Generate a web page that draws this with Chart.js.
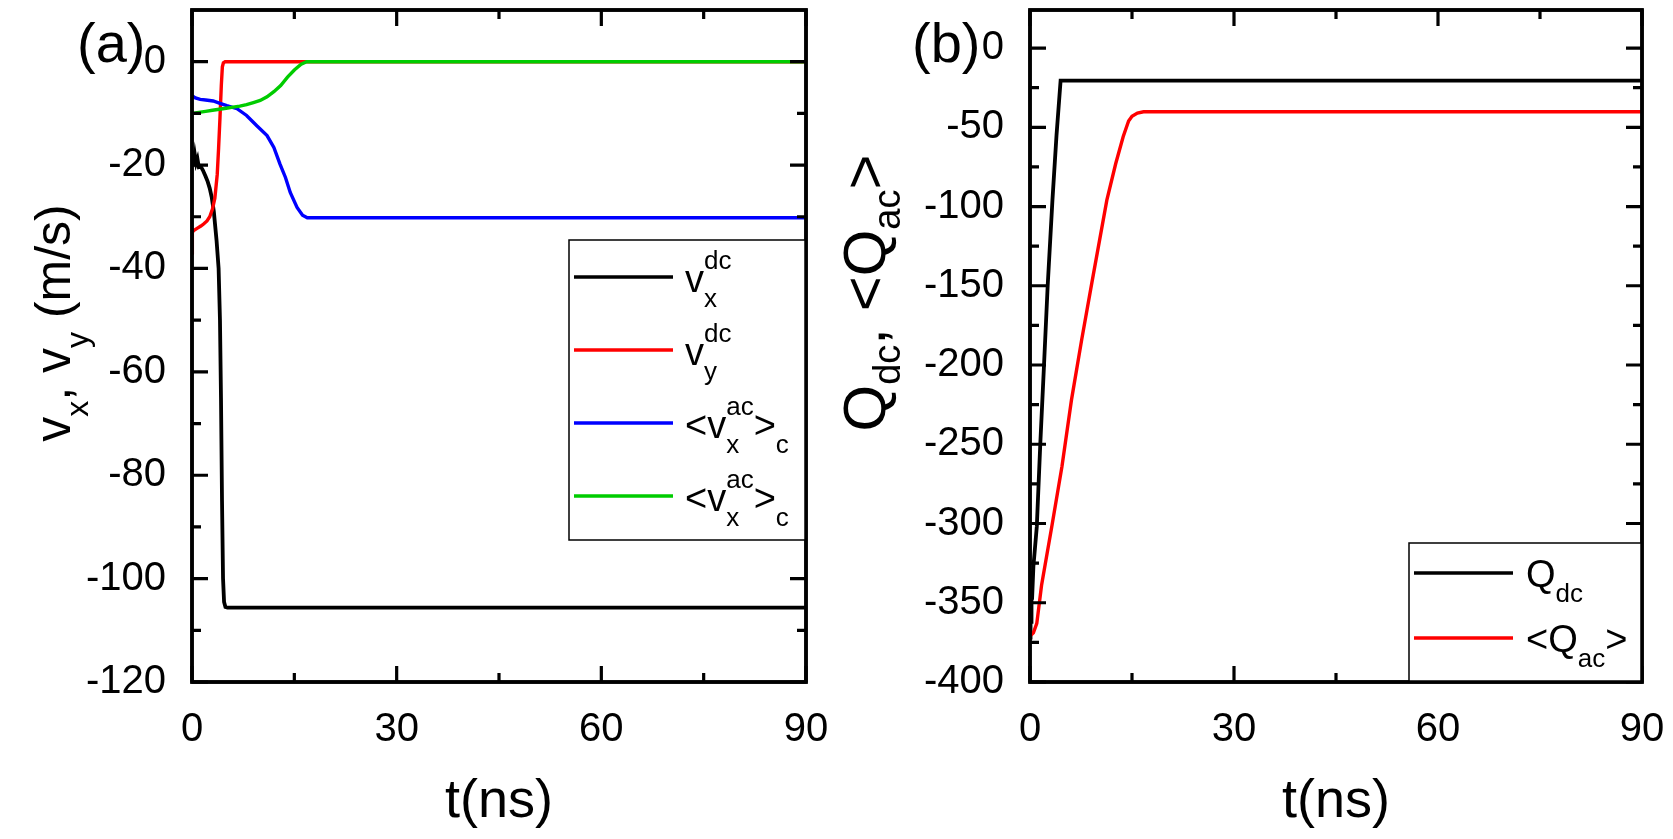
<!DOCTYPE html>
<html>
<head>
<meta charset="utf-8">
<script src="https://cdn.jsdelivr.net/npm/chart.js@4.4.1/dist/chart.umd.min.js"></script>
<style>
  html, body { margin: 0; padding: 0; background: #fff; }
  #wrap { position: relative; width: 1673px; height: 839px; }
  .panel { position: absolute; top: 0; }
</style>
</head>
<body>
<div id="wrap">
  <div class="panel" style="left:0"><canvas id="chartA" width="836" height="839"></canvas></div>
  <div class="panel" style="left:836px"><canvas id="chartB" width="837" height="839"></canvas></div>
</div>
<script>
const FONT = "'Liberation Sans', Arial, sans-serif";

// ---- panel (a): velocities, m/s vs t (ns)
const tVxDc = [0, 0.1, 0.2, 0.3, 0.45, 0.6, 0.8, 1.0, 1.3, 1.6, 2.0, 2.3, 2.6, 2.9, 3.2, 3.6, 3.9, 4.1, 4.25, 4.4, 4.55, 4.7, 4.9, 5.2, 90];
const vxDc  = [-17.5, -19.8, -17.2, -20.2, -18.3, -19.6, -18.8, -20.4, -20.3, -21, -22.2, -23.2, -24.5, -26.3, -29, -34.6, -40, -50, -65, -85, -100, -104.5, -105.5, -105.6, -105.6];

const tVyDc = [0, 0.05, 0.3, 0.8, 1.3, 1.7, 2.2, 2.6, 3.0, 3.35, 3.7, 3.9, 4.1, 4.3, 4.45, 4.6, 4.85, 90];
const vyDc  = [-37, -33, -32.6, -32.2, -31.8, -31.4, -30.8, -30, -28.5, -26.4, -21.8, -16.7, -10.9, -4.5, -1, -0.2, 0, 0];

const tVxAc = [0, 0.5, 1.2, 2, 3.1, 4, 5.1, 6.6, 8, 9.5, 11, 12, 12.9, 13.7, 14.4, 15.4, 16.2, 16.9, 90];
const vxAc  = [-6.6, -7.0, -7.3, -7.4, -7.6, -8.0, -8.5, -9.1, -10.4, -12.4, -14.3, -16.6, -19.8, -22.4, -25.3, -28.2, -29.7, -30.2, -30.2];

const tVyAc = [0, 1, 2, 3, 4, 5, 6, 7, 8, 9, 10, 11, 12, 13, 14, 15, 16, 16.8, 90];
const vyAc  = [-10, -9.8, -9.6, -9.4, -9.2, -9.0, -8.8, -8.6, -8.3, -7.9, -7.5, -6.8, -5.8, -4.6, -3.0, -1.6, -0.5, 0, 0];

// ---- panel (b): Q_dc and <Q_ac>
const tQdc = [0, 0.08, 0.15, 0.22, 0.3, 0.5, 1.0, 1.5, 2.05, 2.6, 3.3, 3.9, 4.5, 90];
const qDc  = [-372, -330, -362, -335, -348, -327, -302, -251, -201, -150, -96, -55, -20.5, -20.5];

const tQac = [0, 0.5, 1.0, 1.7, 3.2, 4.7, 6.1, 7.6, 9.1, 10.2, 11.3, 12.6, 13.7, 14.5, 15.0, 15.8, 16.7, 90];
const qAc  = [-371, -369, -363, -339, -302, -264, -222, -184, -148, -122, -96, -73, -56, -46, -43, -41, -40.2, -40.2];

// ---- ticks
const xTicks  = [0, 30, 60, 90];
const xMinor  = [15, 45, 75];
const yTicksA = [-120, -100, -80, -60, -40, -20, 0];
const yMinorA = [-110, -90, -70, -50, -30, -10];
const yTicksB = [-400, -350, -300, -250, -200, -150, -100, -50, 0];
const yMinorB = [-375, -325, -275, -225, -175, -125, -75, -25];

function pts(xs, ys) {
  return xs.map((x, i) => ({ x: x, y: ys[i] }));
}

// text made of parts: {t} normal, {sup, sub} stacked small text
function richWidth(ctx, parts, big, small) {
  let w = 0;
  parts.forEach((p) => {
    if (p.t) { ctx.font = big; w += ctx.measureText(p.t).width; }
    else {
      ctx.font = small;
      w += Math.max(p.sup ? ctx.measureText(p.sup).width : 0, p.sub ? ctx.measureText(p.sub).width : 0);
    }
  });
  return w;
}
function drawRich(ctx, x, y, parts, big, small, supOff, subOff) {
  parts.forEach((p) => {
    if (p.t) {
      ctx.font = big;
      ctx.fillText(p.t, x, y);
      x += ctx.measureText(p.t).width;
    } else {
      ctx.font = small;
      let w = 0;
      if (p.sup) { ctx.fillText(p.sup, x, y - supOff); w = ctx.measureText(p.sup).width; }
      if (p.sub) { ctx.fillText(p.sub, x, y + subOff); w = Math.max(w, ctx.measureText(p.sub).width); }
      x += w;
    }
  });
}

const frameTicks = {
  id: "frameTicks",
  afterDatasetsDraw(chart, args, o) {
    const { ctx, chartArea: a, scales: { x, y } } = chart;
    ctx.save();
    ctx.strokeStyle = "#000";
    ctx.lineWidth = 3.2;
    ctx.beginPath();
    const tickX = (vals, len) => vals.forEach((v) => {
      const px = x.getPixelForValue(v);
      ctx.moveTo(px, a.bottom); ctx.lineTo(px, a.bottom - len);
      ctx.moveTo(px, a.top); ctx.lineTo(px, a.top + len);
    });
    const tickY = (vals, len) => vals.forEach((v) => {
      const py = y.getPixelForValue(v);
      ctx.moveTo(a.left, py); ctx.lineTo(a.left + len, py);
      ctx.moveTo(a.right, py); ctx.lineTo(a.right - len, py);
    });
    tickX(o.xMajor, 16); tickX(o.xMinor, 9);
    tickY(o.yMajor, 16); tickY(o.yMinor, 9);
    ctx.stroke();
    ctx.lineWidth = 3.5;
    ctx.strokeRect(a.left, a.top, a.right - a.left, a.bottom - a.top);
    ctx.restore();
  }
};

const richLegend = {
  id: "richLegend",
  afterDraw(chart, args, o) {
    const ctx = chart.ctx;
    const b = o.box;
    ctx.save();
    ctx.fillStyle = "#fff";
    ctx.strokeStyle = "#000";
    ctx.lineWidth = 1.5;
    ctx.fillRect(b.x, b.y, b.w, b.h);
    ctx.strokeRect(b.x, b.y, b.w, b.h);
    chart.data.datasets.forEach((ds) => {
      const ly = o.rows[ds.legendRow];
      ctx.strokeStyle = ds.borderColor;
      ctx.lineWidth = 3.4;
      ctx.beginPath();
      ctx.moveTo(o.lineX0, ly);
      ctx.lineTo(o.lineX1, ly);
      ctx.stroke();
      ctx.fillStyle = "#000";
      ctx.textBaseline = "alphabetic";
      drawRich(ctx, o.textX, ly + o.base, ds.rich, "38px " + FONT, "26px " + FONT, 23, 15);
    });
    // axes edges that the box sits on
    const a = chart.chartArea;
    ctx.strokeStyle = "#000";
    ctx.lineWidth = 3.5;
    ctx.strokeRect(a.left, a.top, a.right - a.left, a.bottom - a.top);
    ctx.restore();
  }
};

const titles = {
  id: "titles",
  afterDraw(chart, args, o) {
    const { ctx, chartArea: a } = chart;
    ctx.save();
    ctx.fillStyle = "#000";
    ctx.textBaseline = "alphabetic";
    // x title
    ctx.font = "54px " + FONT;
    ctx.textAlign = "center";
    ctx.fillText("t(ns)", (a.left + a.right) / 2, 817);
    // panel label
    ctx.textAlign = "left";
    ctx.font = "56px " + FONT;
    ctx.fillText(o.panel, o.panelX, 62);
    // rotated y title
    const big = o.yFont + "px " + FONT;
    const small = Math.round(o.yFont * 0.64) + "px " + FONT;
    const w = richWidth(ctx, o.yParts, big, small);
    ctx.translate(o.yBase, o.yMid);
    ctx.rotate(-Math.PI / 2);
    drawRich(ctx, -w / 2, 0, o.yParts, big, small, 0, o.ySub);
    ctx.restore();
  }
};

function lineSet(data, color, rich, row, order, width) {
  return {
    data: data, borderColor: color, backgroundColor: color,
    borderWidth: width || 3.4, pointRadius: 0, tension: 0, fill: false,
    rich: rich, legendRow: row, order: order
  };
}

function axes(yMin, yMax, yMajor, yWidth) {
  const tickFont = { family: FONT, size: 40 };
  return {
    x: {
      type: "linear", min: 0, max: 90,
      grid: { display: false }, border: { display: false },
      ticks: { font: tickFont, color: "#000", padding: 16, maxRotation: 0 },
      afterBuildTicks: (s) => { s.ticks = xTicks.map((v) => ({ value: v })); },
      afterFit: (s) => { s.height = 157; s.paddingLeft = 0; s.paddingRight = 0; }
    },
    y: {
      type: "linear", min: yMin, max: yMax,
      grid: { display: false }, border: { display: false },
      ticks: { font: tickFont, color: "#000", padding: 18 },
      afterBuildTicks: (s) => { s.ticks = yMajor.map((v) => ({ value: v })); },
      afterFit: (s) => { s.width = yWidth; s.paddingTop = 0; s.paddingBottom = 0; }
    }
  };
}

const common = {
  responsive: false,
  devicePixelRatio: 1,
  animation: false,
  events: []
};

new Chart(document.getElementById("chartA"), {
  type: "line",
  data: {
    datasets: [
      lineSet(pts(tVxDc, vxDc), "#000000", [{ t: "v" }, { sup: "dc", sub: "x" }], 0, 3, 3.8),
      lineSet(pts(tVyDc, vyDc), "#ff0000", [{ t: "v" }, { sup: "dc", sub: "y" }], 1, 2),
      lineSet(pts(tVxAc, vxAc), "#0000ff", [{ t: "<v" }, { sup: "ac", sub: "x" }, { t: ">" }, { sub: "c" }], 2, 1),
      lineSet(pts(tVyAc, vyAc), "#00cc00", [{ t: "<v" }, { sup: "ac", sub: "x" }, { t: ">" }, { sub: "c" }], 3, 0)
    ]
  },
  options: Object.assign({}, common, {
    layout: { padding: { left: 0, top: 10, right: 30, bottom: 0 } },
    scales: axes(-120, 10, yTicksA, 192),
    plugins: {
      legend: { display: false },
      tooltip: { enabled: false },
      frameTicks: { xMajor: xTicks, xMinor: xMinor, yMajor: yTicksA, yMinor: yMinorA },
      richLegend: {
        box: { x: 569, y: 240, w: 237, h: 300 },
        rows: [277, 350, 423, 496],
        lineX0: 574, lineX1: 673, textX: 685, base: 15
      },
      titles: {
        panel: "(a)", panelX: 77,
        yFont: 50, yBase: 70, yMid: 323, ySub: 18,
        yParts: [{ t: "v" }, { sub: "x" }, { t: ", v" }, { sub: "y" }, { t: " (m/s)" }]
      }
    }
  }),
  plugins: [frameTicks, richLegend, titles]
});

new Chart(document.getElementById("chartB"), {
  type: "line",
  data: {
    datasets: [
      lineSet(pts(tQdc, qDc), "#000000", [{ t: "Q" }, { sub: "dc" }], 0, 1, 3.8),
      lineSet(pts(tQac, qAc), "#ff0000", [{ t: "<Q" }, { sub: "ac" }, { t: ">" }], 1, 0)
    ]
  },
  options: Object.assign({}, common, {
    layout: { padding: { left: 0, top: 10, right: 31, bottom: 0 } },
    scales: axes(-400, 24, yTicksB, 194),
    plugins: {
      legend: { display: false },
      tooltip: { enabled: false },
      frameTicks: { xMajor: xTicks, xMinor: xMinor, yMajor: yTicksB, yMinor: yMinorB },
      richLegend: {
        box: { x: 573, y: 543, w: 233, h: 139 },
        rows: [573, 638],
        lineX0: 578, lineX1: 677, textX: 690, base: 14
      },
      titles: {
        panel: "(b)", panelX: 76,
        yFont: 60, yBase: 49, yMid: 293, ySub: 15,
        yParts: [{ t: "Q" }, { sub: "dc" }, { t: ", <Q" }, { sub: "ac" }, { t: ">" }]
      }
    }
  }),
  plugins: [frameTicks, richLegend, titles]
});
</script>
</body>
</html>
